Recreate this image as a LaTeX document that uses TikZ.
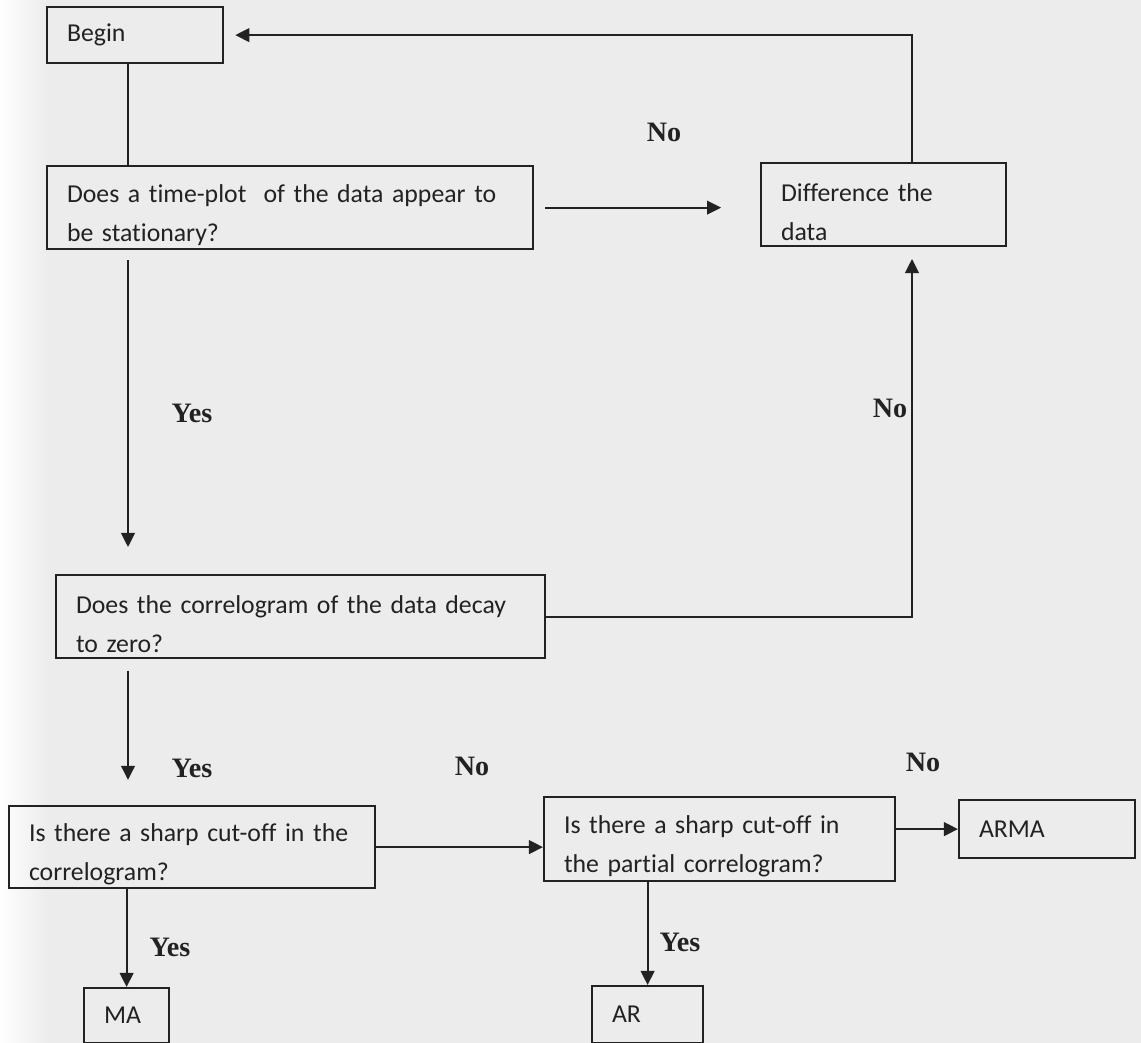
\documentclass[tikz,border=0pt]{standalone}
\usepackage{fontspec}
\setmainfont{Carlito}[Ligatures=NoCommon]
\newfontfamily\labelfont{Liberation Serif}
\usetikzlibrary{arrows.meta,positioning}
\definecolor{scanbg}{HTML}{ECECEC}
\definecolor{ink}{HTML}{222222}

\begin{document}
\begin{tikzpicture}[x=0.015cm, y=-0.015cm,
  box/.style={draw=ink, line width=0.95pt, rectangle, anchor=north west,
    inner xsep=8.5pt, inner ysep=0pt, align=left,
    font=\fontsize{11}{16.6}\selectfont, text=ink},
  twoline/.style={execute at begin node={\rule{0pt}{14pt}}},
  boxsize/.code 2 args={%
    \pgfmathsetlengthmacro\boxw{#1*0.015cm}%
    \pgfmathsetlengthmacro\boxh{#2*0.015cm}%
    \pgfmathsetlengthmacro\boxtw{#1*0.015cm-17pt}%
    \pgfkeysalso{minimum width=\boxw, minimum height=\boxh, text width=\boxtw}},
  flow/.style={draw=ink, line width=0.9pt},
  arrow/.style={flow, -{Triangle[length=6pt,width=5.8pt]}},
  answer/.style={font=\labelfont\bfseries\fontsize{12}{14}\selectfont, text=ink}
]
\useasboundingbox (0,0) rectangle (1141,1043);
\fill[scanbg] (0,0) rectangle (1141,1043);
\shade[left color=white!96!scanbg, right color=scanbg] (0,0) rectangle (48,1043);

% boxes
\node[box, boxsize={176}{56}] (begin) at (46,6) {Begin};
\node[box, twoline, boxsize={486}{83}] (tplot) at (46,165) {Does a time-plot~ of the data appear to\\be stationary?};
\node[box, twoline, boxsize={245}{83}] (diff) at (760,162) {Difference the\\data};
\node[box, twoline, boxsize={489}{83}] (corr) at (55,574) {Does the correlogram of the data decay\\to zero?};
\node[box, twoline, boxsize={366}{82}] (cutacf) at (8,805) {Is there a sharp cut-off in the\\correlogram?};
\node[box, twoline, boxsize={351}{84}] (cutpacf) at (543,796) {Is there a sharp cut-off in\\the partial correlogram?};
\node[box, boxsize={176}{58}] (arma) at (958,799) {ARMA};
\node[box, boxsize={85}{55}] (ma) at (83,987) {MA};
\node[box, boxsize={111}{57}] (ar) at (591,985) {AR};

\coordinate (spine) at (128,0);
\coordinate (rail) at (912,0);

% connectors
\draw[flow] (begin.south -| spine) -- (tplot.north -| spine);
\draw[arrow, shorten <=4.3pt, shorten >=11.5pt] (tplot.south -| spine) -- (corr.north -| spine);
\draw[arrow, shorten <=5pt, shorten >=10.7pt] (corr.south -| spine) -- (cutacf.north -| spine);
\draw[arrow] (ma.north |- cutacf.south) -- (ma.north);
\draw[arrow, shorten <=4.7pt, shorten >=16.6pt] (tplot.east) -- (tplot.east -| diff.west);
\draw[arrow, shorten >=5pt] (corr.east) -| (diff.south -| rail);
\draw[arrow, shorten >=4.7pt] (diff.north -| rail) |- (begin.east);
\draw[arrow] (cutacf.east) -- (cutacf.east -| cutpacf.west);
\draw[arrow] (arma.west -| cutpacf.east) -- (arma.west);
\draw[arrow] (ar.north |- cutpacf.south) -- (ar.north);

% answers
\node[answer] (no1) at (664,132) {No};
\node[answer] (yes1) at (192,413) {Yes};
\node[answer] (no2) at (890,408) {No};
\node[answer] (yes2) at (192,768) {Yes};
\node[answer] (no3) at (472,766) {No};
\node[answer] (no4) at (923,762) {No};
\node[answer] (yes3) at (170,947) {Yes};
\node[answer] (yes4) at (680,942) {Yes};
\end{tikzpicture}
\end{document}
